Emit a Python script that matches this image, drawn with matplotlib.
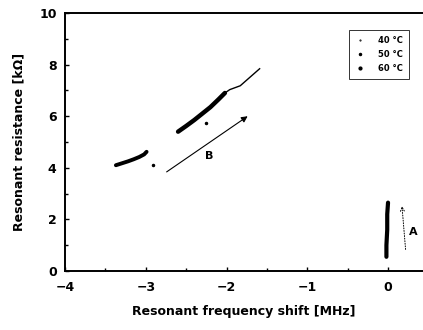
import matplotlib
matplotlib.use("Agg")
import matplotlib.pyplot as plt
from matplotlib.lines import Line2D
from matplotlib.ticker import MultipleLocator

# values
x60 = [-3.37, -3.30, -3.22, -3.15, -3.08, -3.02, -2.99]
y60 = [4.10, 4.17, 4.25, 4.33, 4.42, 4.52, 4.62]
x50 = [-2.60, -2.50, -2.40, -2.30, -2.20, -2.10, -2.02]
y50 = [5.40, 5.62, 5.85, 6.10, 6.35, 6.65, 6.90]
x40 = [-2.02, -1.96, -1.83, -1.71, -1.59]
y40 = [6.90, 7.03, 7.18, 7.51, 7.84]
x_zero = [-0.02, -0.02, -0.01, -0.01, 0.0]
y_zero = [0.55, 1.00, 1.60, 2.20, 2.65]
x_dots = [-2.91, -2.26]
y_dots = [4.09, 5.75]

legend_labels = ["40 °C", "50 °C", "60 °C"]

plt.rcParams["font.family"] = "DejaVu Sans"
plt.rcParams["font.weight"] = "bold"

fig = plt.figure(figsize=(4.23, 3.30), dpi=100)
ax = fig.add_axes([0.1537, 0.1788, 0.8463, 0.7818])

ax.plot(x60, y60, color="black", lw=2.8, solid_capstyle="round")
ax.plot(x50, y50, color="black", lw=3.2, solid_capstyle="round")
ax.plot(x40, y40, color="black", lw=1.0)
ax.plot(x_zero, y_zero, color="black", lw=3.0, solid_capstyle="round")
ax.plot(x_dots, y_dots, ls="none", marker="o", ms=1.5, color="black")

# arrows A and B
ax.annotate("", xy=(-1.71, 6.06), xytext=(-2.77, 3.78),
            arrowprops=dict(arrowstyle="-|>", color="black", lw=0.8,
                            mutation_scale=9))
ax.text(-2.22, 4.44, "B", fontsize=8, fontweight="bold", ha="center", va="center")
ax.annotate("", xy=(0.17, 2.62), xytext=(0.22, 0.73),
            arrowprops=dict(arrowstyle="->", color="black", lw=0.7, ls=":",
                            mutation_scale=7))
ax.text(0.31, 1.5, "A", fontsize=8, fontweight="bold", ha="center", va="center")

ax.set_xlim(-4, 0.433)
ax.set_ylim(0, 10)
ax.xaxis.set_major_locator(MultipleLocator(1))
ax.xaxis.set_minor_locator(MultipleLocator(0.5))
ax.yaxis.set_major_locator(MultipleLocator(2))
ax.yaxis.set_minor_locator(MultipleLocator(1))
ax.tick_params(which="both", direction="in", labelsize=9, width=1)
ax.tick_params(which="major", length=3)
ax.tick_params(which="minor", length=2)
ax.tick_params(axis="x", which="major", pad=7)
ax.tick_params(axis="y", which="major", pad=6)
for s in ("left", "bottom", "top"):
    ax.spines[s].set_linewidth(1.4)
ax.spines["right"].set_visible(False)

ax.set_xlabel("Resonant frequency shift [MHz]", fontsize=9, fontweight="bold", labelpad=8)
ax.set_ylabel("Resonant resistance [kΩ]", fontsize=9, fontweight="bold", labelpad=10)

handles = [
    Line2D([], [], ls="none", marker="o", ms=0.5, color="black"),
    Line2D([], [], ls="none", marker="o", ms=1.5, color="black"),
    Line2D([], [], ls="none", marker="o", ms=2, color="black"),
]
leg = ax.legend(handles, legend_labels, loc="upper right",
                bbox_to_anchor=(0.972, 0.95), fontsize=6, frameon=True,
                fancybox=False, edgecolor="black", handlelength=1.2,
                handletextpad=1.6, borderpad=0.7, labelspacing=0.6)
leg.get_frame().set_linewidth(0.7)

fig.savefig("out.png", dpi=100)
